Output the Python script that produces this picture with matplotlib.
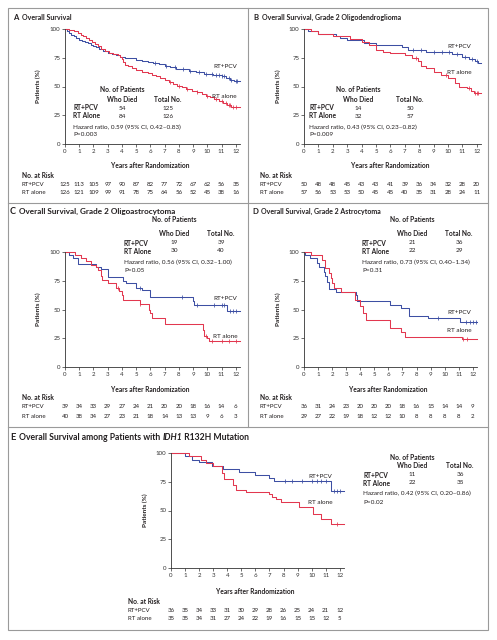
import matplotlib
matplotlib.use('Agg')
import matplotlib.pyplot as plt
from matplotlib.lines import Line2D
from matplotlib.patches import Rectangle
from matplotlib.transforms import blended_transform_factory

plt.rcParams['font.family'] = ['Lato', 'DejaVu Sans']

W, H = 497, 640
BLUE = '#3d4fa3'
RED = '#e2374f'
INK = '#231f20'
FRAME = '#9a9a9a'
T_END = 12.3

years = list(range(13))
y_ticks = [0, 25, 50, 75, 100]

# ---- A: overall survival ----
a_pcv_t = [0, 0.15, 0.3, 0.45, 0.6, 0.8, 1.0, 1.2, 1.4, 1.6, 1.8, 2.0, 2.2, 2.4, 2.7, 3.0, 3.3,
           3.6, 3.9, 4.2, 4.6, 5.0, 5.4, 5.8, 6.2, 6.6, 7.0, 7.4, 7.8, 8.2, 8.7, 9.2, 9.8, 10.4,
           11.0, 11.3, 11.6, 11.9]
a_pcv_s = [100, 98.4, 96.8, 95.2, 93.6, 92, 90.4, 89.6, 88.8, 88, 86.4, 84.8, 84, 82.4, 80.8,
           79.2, 78.4, 77.6, 76, 75.2, 74.4, 72.8, 72, 71.2, 70.4, 69.6, 68, 67.2, 65.6, 64.8,
           63.2, 62.4, 60.8, 60, 59.2, 57.6, 56, 54.4]
a_pcv_c = [6.3, 7.1, 7.7, 8.3, 8.8, 9.4, 9.9, 10.3, 10.6, 10.8, 11.0, 11.2, 11.5, 11.7, 12.0, 12.1]
a_rt_t = [0, 0.3, 0.6, 0.9, 1.1, 1.3, 1.5, 1.7, 1.9, 2.1, 2.3, 2.5, 2.8, 3.1, 3.4, 3.7, 3.9, 4.0,
          4.1, 4.2, 4.4, 4.7, 5.0, 5.4, 5.8, 6.1, 6.4, 6.7, 7.0, 7.3, 7.6, 7.9, 8.2, 8.5, 8.9, 9.3,
          9.6, 9.9, 10.2, 10.5, 10.8, 11.1, 11.4, 11.7]
a_rt_s = [100, 99.2, 98.4, 96.8, 95.2, 93.7, 92.1, 90.5, 88.9, 87.3, 84.9, 82.5, 81, 79.4, 78.6,
          77, 75.4, 73.8, 71.4, 69, 67.5, 65.9, 64.3, 62.7, 61.9, 60.3, 58.7, 57.1, 55.6, 54,
          52.4, 50.8, 49.2, 47.6, 46, 45.2, 43.7, 42.1, 40.5, 38.9, 37.3, 35.7, 34.1, 32.5]
a_rt_c = [7.4, 8.0, 8.6, 9.3, 10.0, 10.6, 11.0, 11.3, 11.5, 11.6, 11.8, 12.0]
a_risk_pcv = [125, 113, 105, 97, 90, 87, 82, 77, 72, 67, 62, 56, 35]
a_risk_rt = [126, 121, 109, 99, 91, 78, 75, 64, 56, 52, 45, 38, 16]
a_stats = ['54', '125', '84', '126', 'Hazard ratio, 0.59 (95% CI, 0.42\u20130.83)', 'P=0.003']

# ---- B: grade 2 oligodendroglioma ----
b_pcv_t = [0, 0.3, 1.0, 2.2, 2.5, 3.0, 4.2, 5.0, 6.8, 7.2, 8.5, 10.3, 11.0, 11.5, 11.9, 12.1]
b_pcv_s = [100, 98, 96, 94, 92, 90, 88, 86, 84, 82, 80, 78, 76, 74, 72, 70]
b_pcv_c = [7.6, 8.1, 9.0, 9.6, 10.1, 10.6, 11.2, 11.7, 12.0]
b_rt_t = [0, 0.5, 1.0, 2.0, 3.2, 4.0, 4.5, 5.0, 5.5, 6.0, 7.0, 7.5, 7.9, 8.1, 8.5, 9.0, 9.5, 10.0,
          10.5, 10.8, 11.3, 11.6, 11.8]
b_rt_s = [100, 98, 96, 94, 91, 89, 86, 82, 80, 79, 77, 75, 72, 68, 66, 63, 60, 57, 53, 50, 49,
          46, 44]
b_rt_c = [7.8, 9.9, 11.5, 11.9, 12.0, 12.1]
b_risk_pcv = [50, 48, 48, 45, 43, 43, 41, 39, 36, 34, 32, 28, 20]
b_risk_rt = [57, 56, 53, 53, 50, 45, 45, 40, 35, 31, 28, 24, 11]
b_stats = ['14', '50', '32', '57', 'Hazard ratio, 0.43 (95% CI, 0.23\u20130.82)', 'P=0.009']

# ---- C: grade 2 oligoastrocytoma ----
c_pcv_t = [0, 0.25, 0.55, 0.9, 2.2, 2.5, 3.0, 4.1, 4.3, 5.0, 5.4, 6.0, 9.0, 9.1, 11.4]
c_pcv_s = [100, 97, 95, 90, 87, 85, 78, 75, 73, 69, 67, 61, 57, 54, 49]
c_pcv_c = [5.3, 8.2, 9.3, 10.5, 11.0, 11.2, 11.6, 11.8, 12.0]
c_rt_t = [0, 0.7, 1.1, 1.5, 1.8, 2.2, 2.3, 2.5, 2.6, 3.0, 3.6, 3.8, 4.0, 4.1, 5.3, 5.9, 6.0, 6.1,
          7.0, 9.7, 9.8, 10.0, 10.1]
c_rt_s = [100, 97, 95, 92, 89, 87, 84, 79, 76, 73, 69, 66, 63, 58, 55, 50, 47, 43, 37, 32, 27,
          25, 22.5]
c_rt_c = [3.7, 5.3, 9.9, 10.3, 11.0, 11.5, 12.0]
c_risk_pcv = [39, 34, 33, 29, 27, 24, 21, 20, 20, 18, 16, 14, 6]
c_risk_rt = [40, 38, 34, 27, 23, 21, 18, 14, 13, 13, 9, 6, 3]
c_stats = ['19', '39', '30', '40', 'Hazard ratio, 0.56 (95% CI, 0.32\u20131.00)', 'P=0.05']

# ---- D: grade 2 astrocytoma ----
d_pcv_t = [0, 0.1, 0.4, 0.9, 1.1, 1.4, 1.5, 1.6, 1.8, 2.3, 3.7, 3.8, 6.1, 6.9, 7.5, 8.8, 11.1]
d_pcv_s = [100, 97, 94.5, 90.5, 87, 83, 79, 73.5, 68, 65, 63, 57, 54, 51, 44.6, 42.5, 38.7]
d_pcv_c = [9.5, 11.5, 11.8, 12.0, 12.2]
d_rt_t = [0, 0.5, 1.3, 1.5, 1.8, 1.9, 2.0, 2.1, 2.6, 3.6, 4.0, 4.2, 4.4, 6.1, 6.9, 7.2, 11.2]
d_rt_s = [100, 97, 93, 86, 82, 77, 73, 68.5, 65, 58, 53, 46.6, 41, 33.5, 30.6, 26, 24]
d_rt_c = [11.3, 11.6]
d_risk_pcv = [36, 31, 24, 23, 20, 20, 20, 18, 16, 15, 14, 14, 9]
d_risk_rt = [29, 27, 22, 19, 18, 12, 12, 10, 8, 8, 8, 8, 2]
d_stats = ['21', '36', '22', '29', 'Hazard ratio, 0.73 (95% CI, 0.40\u20131.34)', 'P=0.31']

# ---- E: IDH1 R132H mutation ----
e_pcv_t = [0, 1.0, 1.5, 2.0, 2.9, 3.7, 4.8, 6.0, 7.0, 7.3, 11.4]
e_pcv_s = [100, 97, 94, 92, 89, 86, 83.5, 81, 78.5, 75.5, 67]
e_pcv_c = [8.1, 8.6, 9.3, 10.0, 10.4, 10.7, 11.0, 11.6, 11.8, 12.0]
e_rt_t = [0, 1.3, 2.1, 2.5, 3.0, 3.6, 3.8, 4.4, 4.6, 5.3, 7.0, 7.2, 7.5, 7.8, 9.1, 10.1, 10.7, 11.4]
e_rt_s = [100, 97, 94, 91, 89, 83, 77, 72, 68, 66, 64, 62, 60, 57, 53, 47, 43, 38]
e_rt_c = [11.8]
e_risk_pcv = [36, 35, 34, 33, 31, 30, 29, 28, 26, 25, 24, 21, 12]
e_risk_rt = [35, 35, 34, 31, 27, 24, 22, 19, 16, 15, 15, 12, 5]
e_stats = ['11', '36', '22', '35', 'Hazard ratio, 0.42 (95% CI, 0.20\u20130.86)', 'P=0.02']

fig = plt.figure(figsize=(W / 100, H / 100), dpi=100)
renderer = fig.canvas.get_renderer()


def ftxt(x, y, s, **kw):
    kw.setdefault('color', INK)
    kw.setdefault('fontsize', 4.6)
    kw.setdefault('va', 'center')
    return fig.text(x / W, 1 - y / H, s, **kw)


def hline(x0, x1, y, **kw):
    fig.add_artist(Line2D([x0 / W, x1 / W], [1 - y / H, 1 - y / H], transform=fig.transFigure, **kw))


def vline(x, y0, y1, **kw):
    fig.add_artist(Line2D([x / W, x / W], [1 - y0 / H, 1 - y1 / H], transform=fig.transFigure, **kw))


def step_value(t, s, c):
    v = s[0]
    for ti, si in zip(t, s):
        if ti <= c:
            v = si
    return v


def km_panel(box, curves, risk, risk_y, risk_x, xlab_y, ylab_x):
    x0, y0, x1, y1 = box
    ax = fig.add_axes([x0 / W, 1 - y1 / H, (x1 - x0) / W, (y1 - y0) / H])
    ax.set_xlim(0, T_END)
    ax.set_ylim(0, 100)
    for t, s, c, col in curves:
        ax.step(t + [T_END], s + [s[-1]], where='post', color=col, lw=0.75, clip_on=False)
        # censored patients
        ax.plot(c, [step_value(t, s, ci) for ci in c], ls='none', marker='|', ms=2.4,
                mew=0.55, color=col, clip_on=False)
    for side in ('top', 'right'):
        ax.spines[side].set_visible(False)
    for side in ('left', 'bottom'):
        ax.spines[side].set_linewidth(0.6)
        ax.spines[side].set_color('#333333')
    ax.set_xticks(years)
    ax.set_yticks(y_ticks)
    ax.tick_params(length=2.2, width=0.5, labelsize=4.4, pad=1.2, colors='#333333')
    ax.patch.set_alpha(0)
    ftxt(ylab_x, (y0 + y1) / 2, 'Patients (%)', rotation=90, ha='center', fontweight='bold',
         fontsize=4.6)
    ftxt((x0 + (x1 - x0) * 6 / T_END), xlab_y, 'Years after Randomization', ha='center',
         fontweight='bold', fontsize=4.8)
    # numbers at risk
    ftxt(risk_x, risk_y[0], 'No. at Risk', fontweight='bold', fontsize=4.8)
    ftxt(risk_x, risk_y[1], 'RT+PCV', fontsize=4.4)
    ftxt(risk_x, risk_y[2], 'RT alone', fontsize=4.4)
    tr = blended_transform_factory(ax.transData, fig.transFigure)
    for row, yy in zip(risk, risk_y[1:]):
        for yr, n in zip(years, row):
            fig.text(yr, 1 - yy / H, str(n), transform=tr, ha='center', va='center',
                     fontsize=4.4, color=INK)
    return ax


def stats_table(lx, cx1, cx2, ys, stats):
    ftxt(cx1, ys[0], 'No. of Patients', ha='center', fontweight='bold', fontsize=4.8)
    ftxt(cx1, ys[1], 'Who Died', ha='center', fontweight='bold', fontsize=4.8)
    ftxt(cx2, ys[1], 'Total No.', ha='center', fontweight='bold', fontsize=4.8)
    ftxt(lx, ys[2], 'RT+PCV', fontweight='bold', fontsize=4.8)
    ftxt(lx, ys[3], 'RT Alone', fontweight='bold', fontsize=4.8)
    ftxt(cx1, ys[2], stats[0], ha='center')
    ftxt(cx2, ys[2], stats[1], ha='center')
    ftxt(cx1, ys[3], stats[2], ha='center')
    ftxt(cx2, ys[3], stats[3], ha='center')
    ftxt(lx, ys[4], stats[4])
    ftxt(lx, ys[5], stats[5])


def title(x, y, letter, parts, size=5.0):
    # panel letter, then title pieces (text, fontstyle) placed one after another
    ftxt(x, y, letter, fontweight='bold', fontsize=size + 0.6)
    cx = x + 9
    for text, style in parts:
        t = ftxt(cx, y, text, fontweight='bold', fontstyle=style, fontsize=size)
        cx += t.get_window_extent(renderer).width


# frame and separators
fig.add_artist(Rectangle((8 / W, 1 - 630 / H), 480 / W, 622 / H, transform=fig.transFigure,
                         fill=False, lw=0.8, edgecolor=FRAME))
vline(248, 8, 427, lw=0.8, color=FRAME)
hline(8, 488, 203, lw=0.8, color=FRAME)
hline(8, 488, 427, lw=0.8, color=FRAME)

# A
title(13, 17, 'A', [('Overall Survival', 'normal')])
km_panel((65, 29, 240, 144),
         [(a_pcv_t, a_pcv_s, a_pcv_c, BLUE), (a_rt_t, a_rt_s, a_rt_c, RED)],
         [a_risk_pcv, a_risk_rt], (175, 184, 193), 22, 166, 38)
stats_table(73, 122, 168, (90, 99, 108, 116, 127, 135), a_stats)
ftxt(213, 67, 'RT+PCV')
ftxt(212, 96, 'RT alone')

# B
title(253, 17, 'B', [('Overall Survival, Grade 2 Oligodendroglioma', 'normal')])
km_panel((304, 29, 481, 144),
         [(b_pcv_t, b_pcv_s, b_pcv_c, BLUE), (b_rt_t, b_rt_s, b_rt_c, RED)],
         [b_risk_pcv, b_risk_rt], (175, 184, 193), 260, 166, 278)
stats_table(309, 358, 410, (90, 99, 108, 116, 127, 135), b_stats)
ftxt(447, 46, 'RT+PCV')
ftxt(447, 73, 'RT alone')

# C
title(10, 211, 'C', [('Overall Survival, Grade 2 Oligoastrocytoma', 'normal')], size=5.9)
km_panel((65, 252, 240, 367),
         [(c_pcv_t, c_pcv_s, c_pcv_c, BLUE), (c_rt_t, c_rt_s, c_rt_c, RED)],
         [c_risk_pcv, c_risk_rt], (398, 407, 416), 22, 389, 38)
stats_table(124, 174, 221, (220, 234, 243, 251, 262, 270), c_stats)
ftxt(213, 298, 'RT+PCV')
ftxt(213, 337, 'RT alone')

# D
title(252, 211, 'D', [('Overall Survival, Grade 2 Astrocytoma', 'normal')])
km_panel((304, 252, 477, 367),
         [(d_pcv_t, d_pcv_s, d_pcv_c, BLUE), (d_rt_t, d_rt_s, d_rt_c, RED)],
         [d_risk_pcv, d_risk_rt], (398, 407, 416), 260, 389, 278)
stats_table(362, 412, 459, (220, 234, 243, 251, 262, 270), d_stats)
ftxt(447, 312, 'RT+PCV')
ftxt(447, 331, 'RT alone')

# E
title(10, 437, 'E', [('Overall Survival among Patients with ', 'normal'), ('IDH1', 'italic'),
                     (' R132H Mutation', 'normal')], size=6.2)
km_panel((171, 453, 344, 568),
         [(e_pcv_t, e_pcv_s, e_pcv_c, BLUE), (e_rt_t, e_rt_s, e_rt_c, RED)],
         [e_risk_pcv, e_risk_rt], (602, 610, 618), 128, 591, 145)
stats_table(363, 412, 460, (457, 466, 475, 483, 493, 502), e_stats)
ftxt(308, 476, 'RT+PCV')
ftxt(308, 502, 'RT alone')

fig.savefig('out.png', dpi=100, facecolor='white')
